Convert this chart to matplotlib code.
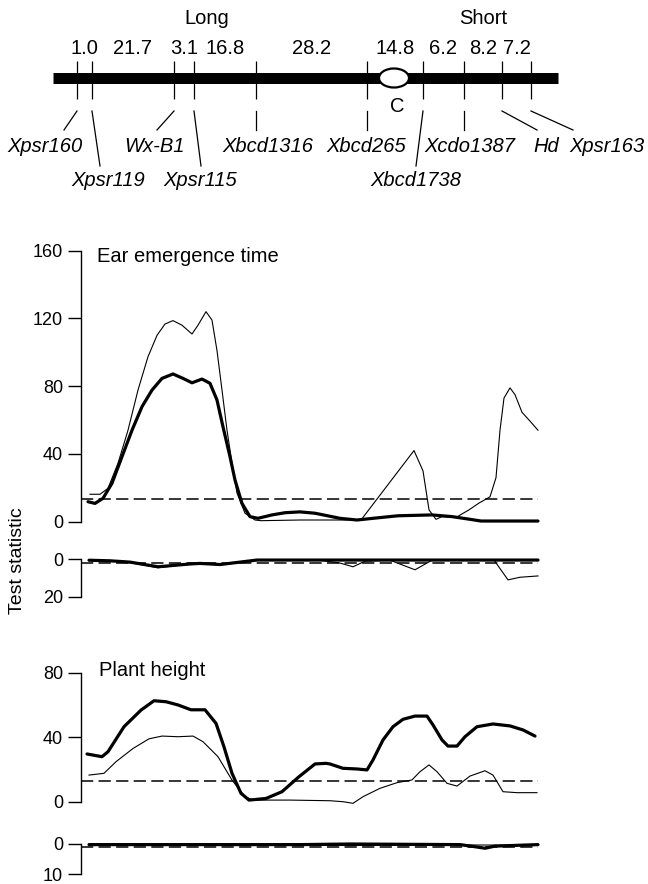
import matplotlib
matplotlib.use("Agg")
import matplotlib.pyplot as plt
from matplotlib.patches import Ellipse

plt.rcParams['font.family'] = ['Liberation Sans', 'DejaVu Sans']

W, H = 648, 884

# chromosome map, positions as drawn on the figure
marker_names = ["Xpsr160", "Xpsr119", "Wx-B1", "Xpsr115", "Xbcd1316",
                "Xbcd265", "Xbcd1738", "Xcdo1387", "Hd", "Xpsr163"]
marker_pos = [77, 92, 174, 194, 256, 367, 423, 464, 502, 531]
intervals = ["1.0", "21.7", "3.1", "16.8", "28.2", "14.8", "6.2", "8.2", "7.2"]
centromere_pos = 394
label_x = [45, 108, 155, 200, 268, 366, 416, 470, 546, 607]
label_row = [0, 1, 0, 1, 0, 0, 1, 0, 0, 0]
leader_end = [64, 100, 157, 201, 256, 367, 416, 464, 537, 573]

# Ear emergence time
ear_thin_x = [90, 100, 108, 118, 128, 138, 148, 157, 165, 173, 182, 192, 198, 206,
              212, 217, 222, 227, 232, 237, 245, 255, 261, 300, 361, 414, 423, 429,
              436, 442, 456, 469, 479, 490, 496, 500, 504, 510, 515, 522, 531, 538]
ear_thin = [16.2, 16.2, 19.7, 34.5, 54, 77.7, 97.4, 110, 116.7, 118.7, 116, 110.8, 116, 124,
            119, 101, 77.7, 54, 34.6, 16.9, 5, 1, 0.6, 1, 1, 42, 30, 7,
            1.4, 3, 2.5, 7, 11, 14.7, 26, 54, 73, 79, 75, 64.6, 58.7, 54]
ear_thick_x = [88, 95, 103, 112, 122, 132, 142, 152, 162, 173, 183, 192, 202, 210,
               217, 223, 230, 235, 242, 250, 258, 272, 285, 300, 315, 340, 357, 373,
               398, 432, 452, 469, 481, 538]
ear_thick = [11.8, 10.8, 13.8, 22.7, 38.4, 54, 67.9, 77.7, 84.6, 87.2, 84.6, 82, 84.2, 81.7,
             71.8, 56, 38.4, 24.6, 10.8, 3, 2, 4, 5.3, 5.8, 5, 2, 1, 2,
             3.5, 4, 3, 1.5, 0.4, 0.4]
ear_thresh = 13.2

ear_sub_thick_x = [89, 110, 130, 158, 190, 200, 220, 240, 257, 538]
ear_sub_thick = [0.5, 0.8, 1.5, 4, 2.5, 2.2, 2.8, 1.5, 0.4, 0.4]
ear_sub_thin_x = [89, 110, 130, 158, 190, 200, 220, 240, 257, 320, 340, 353, 365,
                  390, 415, 432, 494, 508, 520, 538]
ear_sub_thin = [0.5, 0.8, 1.8, 4.5, 2.5, 2.2, 3, 1.5, 0.5, 0.5, 2, 4, 1,
                0.5, 5.6, 0.5, 0.4, 11, 9.6, 8.9]
ear_sub_thresh = 1.9

# Plant height
ph_thick_x = [87, 102, 108, 124, 141, 154, 166, 178, 191, 205, 216, 224, 232, 241,
              249, 266, 282, 299, 315, 326, 330, 343, 357, 367, 373, 383, 393, 403,
              415, 427, 433, 442, 448, 457, 465, 477, 493, 510, 523, 535]
ph_thick = [29.6, 27.9, 31, 46.5, 56.8, 62.6, 62, 60, 57, 57, 48.6, 34, 17.6, 5.2,
            1, 2, 6.2, 15.5, 23.4, 23.8, 23.4, 20.7, 20.3, 19.7, 25.9, 38.3, 46.5, 51.1,
            53.1, 53.1, 47.6, 38.3, 34.5, 34.5, 40.3, 46.5, 48.2, 47, 44.5, 40.7]
ph_thin_x = [89, 104, 116, 133, 149, 162, 178, 193, 203, 218, 232, 245, 253, 290,
             330, 343, 353, 363, 380, 397, 412, 420, 429, 437, 447, 457, 470, 485,
             493, 503, 517, 537]
ph_thin = [16.5, 17.6, 24.8, 33, 39, 40.7, 40.3, 40.7, 37.2, 27.9, 13.4, 3.1, 1, 1,
           0.6, 0, -1, 3.1, 8.3, 11.8, 13.5, 18.6, 22.8, 18.6, 11.4, 9.7, 15.9, 19.2,
           16.5, 6.2, 5.6, 5.6]
ph_thresh = 13.0

ph_sub_thick_x = [89, 300, 350, 460, 475, 485, 495, 538]
ph_sub_thick = [0.3, 0.3, 0.1, 0.3, 1.0, 1.5, 0.8, 0.3]
ph_sub_thin_x = [89, 250, 350, 450, 538]
ph_sub_thin = [0.6, 0.4, 0.6, 0.4, 0.5]
ph_sub_thresh = 1.1

X0, X1 = 81, 560
FS = 13
FS_BIG = 14.5

fig = plt.figure(figsize=(W / 100, H / 100), dpi=100)

# ---- chromosome map ----
axc = fig.add_axes([0, 0, 1, 1])
axc.set_xlim(0, W)
axc.set_ylim(H, 0)
axc.axis("off")
axc.plot([53, 558], [78, 78], color="black", lw=7.9, solid_capstyle="butt")
axc.vlines(marker_pos, 61, 99, color="black", lw=0.9)
axc.add_patch(Ellipse((centromere_pos, 78), 30, 19, fc="white", ec="black", lw=1.6, zorder=3))
axc.text(centromere_pos + 3, 107, "C", ha="center", va="center", fontsize=FS_BIG)
for i, lab in enumerate(intervals):
    mid = (marker_pos[i] + marker_pos[i + 1]) / 2
    axc.text(mid, 49, lab, ha="center", va="center", fontsize=FS_BIG)
axc.text(207, 19, "Long", ha="center", va="center", fontsize=FS_BIG)
axc.text(483, 18, "Short", ha="center", va="center", fontsize=FS_BIG)
for name, mp, lx, row, le in zip(marker_names, marker_pos, label_x, label_row, leader_end):
    yend = 130 if row == 0 else 166
    ylab = 146 if row == 0 else 180
    axc.plot([mp, le], [111, yend], color="black", lw=0.9)
    axc.text(lx, ylab, name, ha="center", va="center", fontsize=FS_BIG, style="italic")


def panel(zero, k, lo, hi, ticks, bound, inverted=False):
    if inverted:
        top, bot = zero + lo * k, zero + hi * k
    else:
        top, bot = zero - hi * k, zero - lo * k
    ax = fig.add_axes([X0 / W, 1 - bot / H, (X1 - X0) / W, (bot - top) / H])
    ax.patch.set_alpha(0)
    ax.set_xlim(X0, X1)
    if inverted:
        ax.set_ylim(hi, lo)
    else:
        ax.set_ylim(lo, hi)
    for s in ["top", "right", "bottom"]:
        ax.spines[s].set_visible(False)
    ax.spines["left"].set_bounds(0, bound)
    ax.spines["left"].set_linewidth(1.0)
    ax.set_xticks([])
    ax.set_yticks(ticks)
    ax.tick_params(axis="y", direction="out", length=9.4, width=1.0, pad=3.6, labelsize=FS)
    return ax


def draw(ax, tx, ty, kx, ky, thr):
    ax.axhline(thr, xmin=0, xmax=(538 - X0) / (X1 - X0), color="black", lw=1.1,
               dashes=(8, 3.5), clip_on=False)
    ax.plot(tx, ty, color="black", lw=0.8, clip_on=False, solid_joinstyle="round")
    ax.plot(kx, ky, color="black", lw=2.3, clip_on=False, solid_joinstyle="round",
            solid_capstyle="round")


ax1 = panel(521.7, 1.694, -4, 163, [0, 40, 80, 120, 160], 160)
draw(ax1, ear_thin_x, ear_thin, ear_thick_x, ear_thick, ear_thresh)
ax1s = panel(559.3, 1.87, -3, 21, [0, 20], 20, inverted=True)
draw(ax1s, ear_sub_thin_x, ear_sub_thin, ear_sub_thick_x, ear_sub_thick, ear_sub_thresh)

ax2 = panel(801.7, 1.6125, -4, 82, [0, 40, 80], 80)
draw(ax2, ph_thin_x, ph_thin, ph_thick_x, ph_thick, ph_thresh)
ax2s = panel(843.7, 3.03, -1.5, 10.5, [0, 10], 10, inverted=True)
draw(ax2s, ph_sub_thin_x, ph_sub_thin, ph_sub_thick_x, ph_sub_thick, ph_sub_thresh)

fig.text(97 / W, 1 - 256 / H, "Ear emergence time", ha="left", va="center", fontsize=FS_BIG)
fig.text(99 / W, 1 - 671 / H, "Plant height", ha="left", va="center", fontsize=FS_BIG)
fig.text(17.5 / W, 1 - 561 / H, "Test statistic", rotation=90, ha="center", va="center",
         fontsize=FS + 1)

fig.savefig("out.png", dpi=100)
